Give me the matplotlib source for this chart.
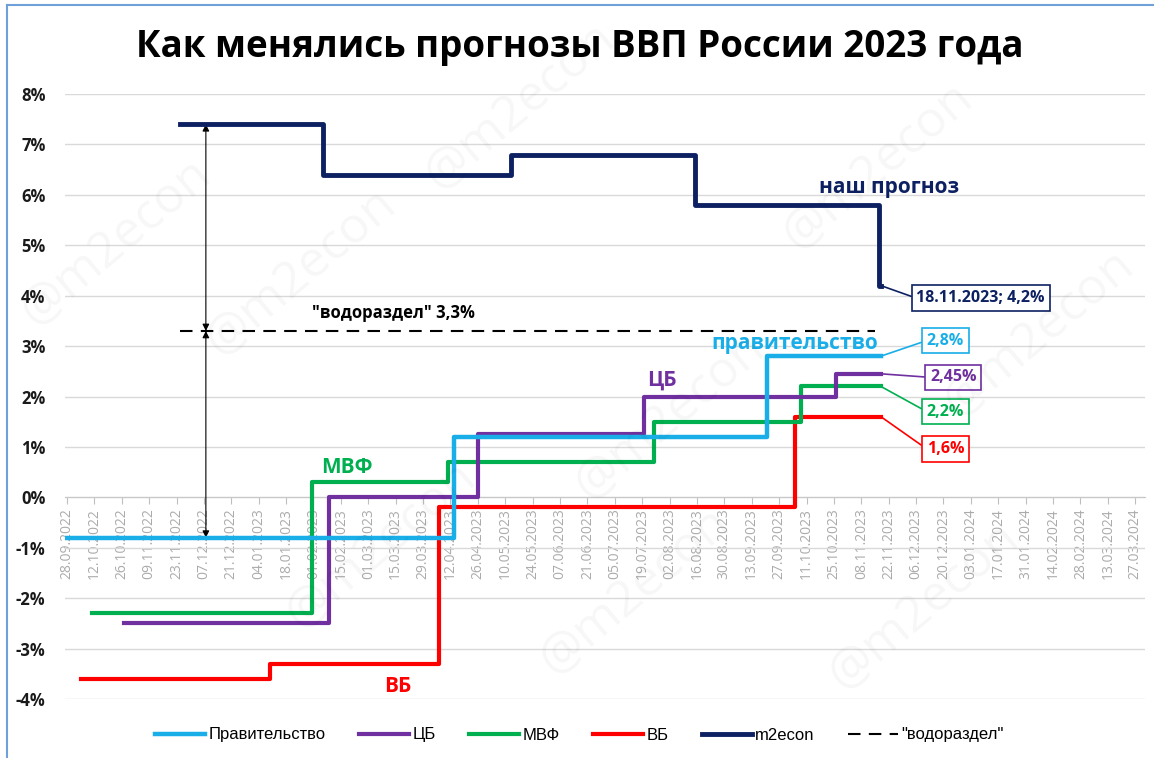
import numpy as np
import pandas as pd
import matplotlib
matplotlib.use("Agg")
import matplotlib.pyplot as plt
from matplotlib.lines import Line2D
from matplotlib import font_manager

# --- данные (прогнозы роста ВВП, %) ---
gov_dates = ["2022-09-28", "2023-04-14", "2023-09-21", "2023-11-18"]
gov_vals = [-0.8, 1.2, 2.8, 2.8]

cb_dates = ["2022-10-27", "2023-02-09", "2023-04-26", "2023-07-20", "2023-10-26", "2023-11-18"]
cb_vals = [-2.5, 0.0, 1.25, 2.0, 2.45, 2.45]

imf_dates = ["2022-10-11", "2023-01-31", "2023-04-11", "2023-07-25", "2023-10-08", "2023-11-18"]
imf_vals = [-2.3, 0.3, 0.7, 1.5, 2.2, 2.2]

wb_dates = ["2022-10-05", "2023-01-10", "2023-04-06", "2023-10-05", "2023-11-18"]
wb_vals = [-3.6, -3.3, -0.2, 1.6, 1.6]

m2_dates = ["2022-11-25", "2023-02-06", "2023-05-13", "2023-08-15", "2023-11-17", "2023-11-18"]
m2_vals = [7.4, 6.4, 6.8, 5.8, 4.2, 4.2]

divide_dates = ["2022-11-25", "2023-11-15"]
divide_vals = [3.3, 3.3]

series_names = ["Правительство", "ЦБ", "МВФ", "ВБ", "m2econ"]
end_labels = ["2,8%", "2,45%", "2,2%", "1,6%", "18.11.2023; 4,2%"]

tick_dates = pd.date_range("2022-09-28", "2024-03-27", freq="14D")
tick_labels = [d.strftime("%d.%m.%Y") for d in tick_dates]
y_ticks = list(range(-4, 9))

# --- шрифты ---
avail = {f.name for f in font_manager.fontManager.ttflist}
main_font = "Open Sans" if "Open Sans" in avail else "DejaVu Sans"
narrow_font = "Liberation Sans Narrow" if "Liberation Sans Narrow" in avail else "Liberation Sans"
plt.rcParams["font.family"] = [main_font, "DejaVu Sans"]

c_gov = "#19aee8"
c_cb = "#7030a0"
c_imf = "#00b050"
c_wb = "#ff0000"
c_m2 = "#0d2162"

W, H = 1154, 758
fig = plt.figure(figsize=(W / 100, H / 100), dpi=100)
# оси: 65..1145 px по x, 94..699 px по y
ax = fig.add_axes([65 / W, 1 - 699 / H, (1145 - 65) / W, (699 - 94) / H])

def dt(lst):
    return pd.to_datetime(lst)

# водяные знаки
for (wx, wy) in [(0.10, 0.68), (0.26, 0.64), (0.45, 0.86), (0.76, 0.78),
                 (0.90, 0.56), (0.58, 0.45), (0.33, 0.28), (0.55, 0.22), (0.80, 0.20)]:
    fig.text(wx, wy, "@m2econ", fontsize=36, color="#000000", alpha=0.035,
             rotation=40, ha="center", va="center", zorder=0)

ax.step(dt(wb_dates), wb_vals, where="post", color=c_wb, lw=3, label=series_names[3], zorder=3)
ax.step(dt(imf_dates), imf_vals, where="post", color=c_imf, lw=3, label=series_names[2], zorder=3)
ax.step(dt(cb_dates), cb_vals, where="post", color=c_cb, lw=3, label=series_names[1], zorder=3)
ax.step(dt(gov_dates), gov_vals, where="post", color=c_gov, lw=3.2, label=series_names[0], zorder=4)
ax.step(dt(m2_dates), m2_vals, where="post", color=c_m2, lw=3.5, label=series_names[4], zorder=5)
ax.plot(dt(divide_dates), divide_vals, color="black", lw=1.5, dashes=(6, 4),
        label='"водораздел"', zorder=3)

# оси
ax.set_xlim(pd.Timestamp("2022-09-27"), pd.Timestamp("2024-04-01"))
ax.set_ylim(-4, 8)
ax.set_yticks(y_ticks)
ax.set_yticklabels([f"{v}%" for v in y_ticks], fontsize=12, fontweight="bold", color="#1a1a1a")
ax.tick_params(axis="y", length=0, pad=14)
ax.set_xticks(tick_dates, labels=tick_labels)
ax.tick_params(axis="x", length=5, color="#bfbfbf", pad=3, labelrotation=90,
               labelsize=10, labelcolor="#ababab")
for t in ax.get_xticklabels():
    t.set_fontfamily("Liberation Sans")
    t.set_rotation(90)
for s in ["top", "right", "left"]:
    ax.spines[s].set_visible(False)
ax.spines["bottom"].set_position(("data", 0))
ax.spines["bottom"].set_color("#c8c8c8")
ax.grid(axis="y", color="#d9d9d9", lw=1)
ax.set_axisbelow(True)
ax.patch.set_alpha(0)

# подписи серий
ax.text(pd.Timestamp("2023-11-22"), 6.15, "наш прогноз", color=c_m2, fontsize=15,
        fontweight="bold", ha="center", va="center")
ax.text(pd.Timestamp("2023-10-05"), 3.05, "правительство", color=c_gov, fontsize=15,
        fontweight="bold", ha="center", va="center")
ax.text(pd.Timestamp("2023-07-29"), 2.32, "ЦБ", color=c_cb, fontsize=15,
        fontweight="bold", ha="center", va="center")
ax.text(pd.Timestamp("2023-02-18"), 0.6, "МВФ", color=c_imf, fontsize=15,
        fontweight="bold", ha="center", va="center")
ax.text(pd.Timestamp("2023-03-16"), -3.75, "ВБ", color=c_wb, fontsize=15,
        fontweight="bold", ha="center", va="center")
ax.text(pd.Timestamp("2023-03-14"), 3.65, '"водораздел" 3,3%', color="black", fontsize=12,
        fontweight="bold", ha="center", va="center")

# стрелки
arr_x = pd.Timestamp("2022-12-08")
ax.annotate("", xy=(arr_x, m2_vals[0]), xytext=(arr_x, divide_vals[0]),
            arrowprops=dict(arrowstyle="<|-|>", color="black", lw=0.8,
                            mutation_scale=10, shrinkA=0, shrinkB=0))
ax.annotate("", xy=(arr_x, divide_vals[0]), xytext=(arr_x, gov_vals[0]),
            arrowprops=dict(arrowstyle="<|-|>", color="black", lw=0.8,
                            mutation_scale=10, shrinkA=0, shrinkB=0))

# выноски с последними значениями
callouts = [
    (gov_dates[-1], gov_vals[-1], "2023-12-21", 3.11, c_gov, end_labels[0]),
    (cb_dates[-1], cb_vals[-1], "2023-12-25", 2.38, c_cb, end_labels[1]),
    (imf_dates[-1], imf_vals[-1], "2023-12-21", 1.70, c_imf, end_labels[2]),
    (wb_dates[-1], wb_vals[-1], "2023-12-21", 0.96, c_wb, end_labels[3]),
    (m2_dates[-1], m2_vals[-1], "2024-01-08", 3.95, c_m2, end_labels[4]),
]
for xd, yv, tx, ty, col, lab in callouts:
    ax.annotate(lab, xy=(pd.Timestamp(xd), yv), xytext=(pd.Timestamp(tx), ty),
                ha="center", va="center", fontsize=11.5, fontweight="bold", color=col,
                bbox=dict(boxstyle="square,pad=0.3", fc="white", ec=col, lw=1.2),
                arrowprops=dict(arrowstyle="-", color=col, lw=1.2, relpos=(0, 0.5),
                                shrinkA=0, shrinkB=0),
                zorder=6)

# заголовок
fig.text(0.502, 1 - 47 / H, "Как менялись прогнозы ВВП России 2023 года", ha="center",
         va="center", fontsize=26.5, fontweight="bold", color="black")

# легенда
handles, labels = ax.get_legend_handles_labels()
order = [labels.index(n) for n in series_names + ['"водораздел"']]
leg = fig.legend([handles[i] for i in order], [labels[i] for i in order],
                 loc="center", bbox_to_anchor=(0.502, 1 - 735 / H), ncol=6, frameon=False,
                 prop={"family": narrow_font, "size": 12}, handlelength=3.0,
                 columnspacing=2.0, handletextpad=0.2)

# рамка слева и сверху
fig.add_artist(Line2D([7 / W, 7 / W], [0, 1 - 5 / H], color="#6fa0d8", lw=1.5))
fig.add_artist(Line2D([7 / W, 1], [1 - 5 / H, 1 - 5 / H], color="#6fa0d8", lw=1.5))

fig.savefig("out.png", dpi=100)
